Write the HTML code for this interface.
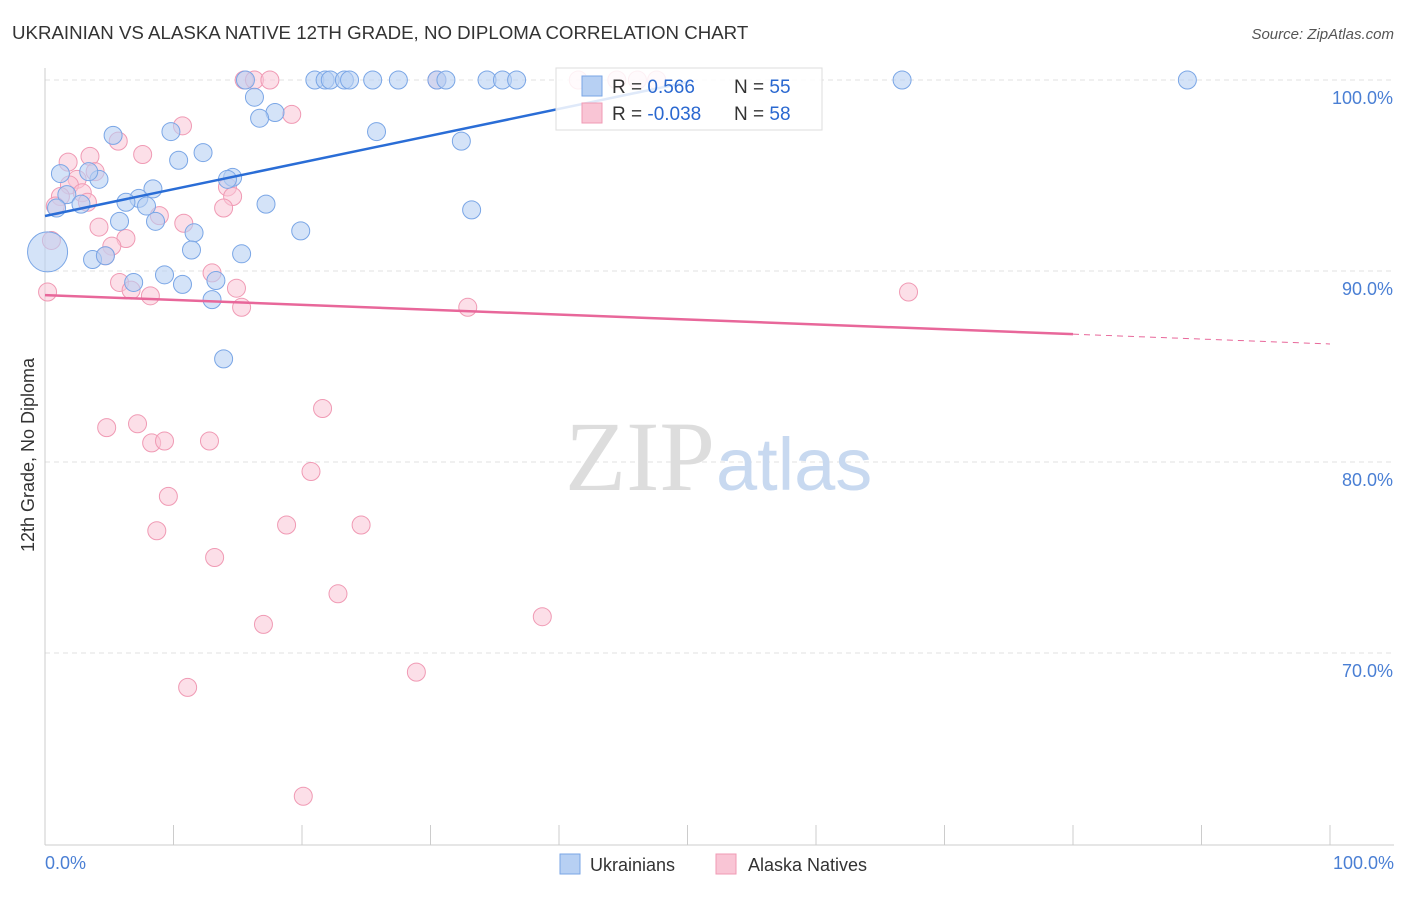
<!DOCTYPE html>
<html><head><meta charset="utf-8"><style>
body{margin:0;background:#fff;font-family:"Liberation Sans",sans-serif}
</style></head><body>
<svg width="1406" height="892" style="font-family:'Liberation Sans',sans-serif">
<text x="12" y="39" font-size="18.7" fill="#333">UKRAINIAN VS ALASKA NATIVE 12TH GRADE, NO DIPLOMA CORRELATION CHART</text>
<text x="1394" y="39" font-size="15" fill="#555" text-anchor="end" font-style="italic">Source: ZipAtlas.com</text>
<g id="grid"></g>
<text x="715" y="490" font-size="100" fill="#ddd" text-anchor="end" font-family="Liberation Serif">ZIP</text>
<text x="716" y="490" font-size="74" fill="#c8d9f0">atlas</text>
<line x1="45" y1="68" x2="45" y2="845" stroke="#ccc"/>
<line x1="45" y1="845" x2="1394" y2="845" stroke="#ccc"/>
<text transform="translate(34,455) rotate(-90)" font-size="18" fill="#333" text-anchor="middle">12th Grade, No Diploma</text>
<text x="45" y="869" font-size="18" fill="#4a7fd4">0.0%</text>
<text x="1394" y="869" font-size="18" fill="#4a7fd4" text-anchor="end">100.0%</text>
<g id="pts"></g>
<g id="trend"></g>
<g>
<rect x="556" y="68" width="266" height="62" fill="#fff" fill-opacity="0.85" stroke="#ddd"/>
<rect x="582" y="76" width="20" height="20" fill="#b7d0f3" stroke="#7aa6e6"/>
<rect x="582" y="103" width="20" height="20" fill="#f9c5d5" stroke="#f09ab4"/>
<text x="612" y="93" font-size="19" fill="#333">R = <tspan fill="#2a68d0"> 0.566</tspan><tspan x="734">N = </tspan><tspan fill="#2a68d0">55</tspan></text>
<text x="612" y="120" font-size="19" fill="#333">R = <tspan fill="#2a68d0">-0.038</tspan><tspan x="734">N = </tspan><tspan fill="#2a68d0">58</tspan></text>
</g>
<g>
<rect x="560" y="854" width="20" height="20" fill="#b7d0f3" stroke="#7aa6e6"/>
<text x="590" y="871" font-size="18" fill="#333">Ukrainians</text>
<rect x="716" y="854" width="20" height="20" fill="#f9c5d5" stroke="#f09ab4"/>
<text x="748" y="871" font-size="18" fill="#333">Alaska Natives</text>
</g>
</svg>
<script>
const yTicks=[100,90,80,70];
const xTicks=[0,10,20,30,40,50,60,70,80,90,100];
const bluePx=[[245,80],[315,80],[325,80],[330,80],[345,80],[350,80],[373,80],[399,80],[437,80],[446,80],[487,80],[503,80],[517,80],[902,80],[1188,80],[254,97],[275,112],[260,118],[376,131],[461,142],[113,135],[171,131],[203,153],[178,160],[61,173],[99,180],[89,171],[233,177],[227,180],[153,189],[67,194],[139,198],[126,202],[81,205],[146,207],[56,208],[266,204],[472,210],[119,222],[156,221],[194,232],[301,230],[192,250],[241,254],[93,259],[105,256],[165,274],[134,282],[183,285],[216,281],[212,299],[224,358]];
const pinkPx=[[244,80],[255,80],[270,80],[437,80],[578,80],[617,80],[637,80],[657,80],[292,115],[183,125],[118,141],[143,155],[68,162],[90,157],[95,171],[77,180],[70,186],[60,196],[82,193],[87,203],[55,206],[228,187],[232,196],[160,215],[184,223],[224,208],[52,240],[99,227],[126,239],[112,246],[105,255],[212,273],[120,283],[131,291],[150,295],[236,288],[242,307],[47,292],[468,308],[908,292],[323,408],[107,427],[138,424],[152,443],[164,441],[209,441],[311,471],[169,497],[157,530],[286,525],[361,525],[215,557],[338,593],[263,625],[542,616],[188,687],[417,673],[303,796]];
const blueX=bluePx.map(p=>+((p[0]-45)/12.85).toFixed(1));
const blueY=bluePx.map(p=>+(100-(p[1]-80)/19.1).toFixed(1));
const pinkX=pinkPx.map(p=>+((p[0]-45)/12.85).toFixed(1));
const pinkY=pinkPx.map(p=>+(100-(p[1]-80)/19.1).toFixed(1));
const blueTrend=[92.88,0.1402];
const pinkTrend=[88.74,-0.0256];
const sx=v=>45+v*12.85, sy=v=>80+(100-v)*19.1;
const NS="http://www.w3.org/2000/svg";
function mk(t,a,p){const e=document.createElementNS(NS,t);for(const k in a)e.setAttribute(k,a[k]);p.appendChild(e);return e;}
const g=document.getElementById('grid');
yTicks.forEach(v=>{
 const l=mk('line',{x1:45,x2:1394,y1:sy(v),y2:sy(v),stroke:'#e2e2e2','stroke-dasharray':'5,4'},g);
 
 
 const t=mk('text',{x:1393,y:sy(v)+24,'font-size':18,fill:'#4a7fd4','text-anchor':'end'},g);
 t.textContent=v.toFixed(1)+'%';
 
 
});
xTicks.forEach(v=>{
 const l=mk('line',{x1:sx(v),x2:sx(v),y1:825,y2:845,stroke:'#ccc'},g);
 
 
});
const P=document.getElementById('pts');
pinkX.forEach((x,i)=>{
 const c=mk('circle',{cx:sx(x),cy:sy(pinkY[i]),r:9,fill:'#f9c5d5','fill-opacity':0.55,stroke:'#f09ab4','stroke-width':1},P);
 
 
});
blueX.forEach((x,i)=>{
 const c=mk('circle',{cx:sx(x),cy:sy(blueY[i]),r:9,fill:'#b7d0f3','fill-opacity':0.6,stroke:'#7aa6e6','stroke-width':1},P);
 
 
});
const big=mk('circle',{cx:sx(0.2),cy:sy(91.0),r:20,fill:'#b7d0f3','fill-opacity':0.6,stroke:'#7aa6e6'},P);


const T=document.getElementById('trend');
const bl=mk('line',{x1:sx(0),y1:sy(blueTrend[0]),x2:sx(50.2),y2:sy(blueTrend[0]+blueTrend[1]*50.2),stroke:'#2a6dd6','stroke-width':2.5},T);


const pl=mk('line',{x1:sx(0),y1:sy(pinkTrend[0]),x2:sx(80),y2:sy(pinkTrend[0]+pinkTrend[1]*80),stroke:'#e8679a','stroke-width':2.5},T);


const pd=mk('line',{x1:sx(80),y1:sy(pinkTrend[0]+pinkTrend[1]*80),x2:sx(100),y2:sy(pinkTrend[0]+pinkTrend[1]*100),stroke:'#e8679a','stroke-width':1,'stroke-dasharray':'6,5'},T);


</script>
</body></html>
